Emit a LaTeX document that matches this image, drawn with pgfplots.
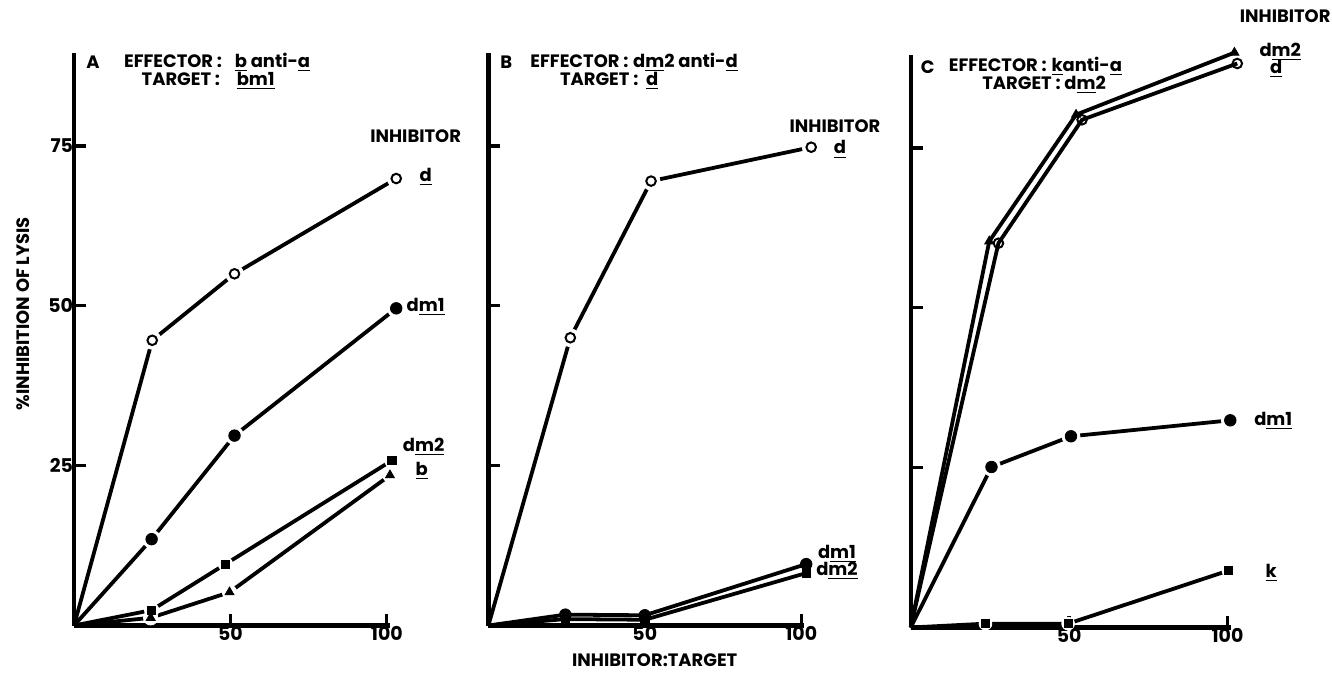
\documentclass[border=0pt]{standalone}
\usepackage{pgfplots}
\pgfplotsset{compat=1.18}
\usepackage{pgfplotstable}
\usepackage{fontspec}
\setmainfont{Poppins}
\pgfplotstableread{
x y
0 0
25 44.6
51.3 55
103 69.9
}\Ad
\pgfplotstableread{
x y
0 0
24.8 13.5
51.3 29.7
103 49.6
}\Admone
\pgfplotstableread{
x y
0 0
24.8 2.4
48.4 9.6
101.6 25.8
}\Admtwo
\pgfplotstableread{
x y
0 0
24.5 1.2
49.7 5.2
101 23.5
}\Ab
\pgfplotstableread{
x y
0 0
26.2 45
52 69.5
103.2 74.8
}\Bd
\pgfplotstableread{
x y
0 0
24.6 1.7
50 1.6
101.6 9.6
}\Bdmone
\pgfplotstableread{
x y
0 0
24.6 1.0
50 0.9
101.6 8.2
}\Bdmtwo
\pgfplotstableread{
x y
0 0
24.8 60.4
52.2 80.2
102.2 89.9
}\Cdmtwo
\pgfplotstableread{
x y
0 0
27.7 60.1
54.1 79.4
103.1 88.2
}\Cd
\pgfplotstableread{
x y
0 0
25.5 25.1
50.6 29.9
100.9 32.4
}\Cdmone
\pgfplotstableread{
x y
0 0
23.6 0.6
49.7 0.6
100.3 8.9
}\Ck
\begin{document}
\pgfplotsset{
 panel/.style={scale only axis, width=158.6pt, height=287.3pt,
   xmin=0, xmax=101, ymin=0, ymax=89.5,
   axis x line*=bottom, axis y line*=left,
   axis line style={line width=2.2pt, -},
   tick align=inside, major tick length=6pt,
   tick style={line width=1.6pt, black},
   xtick={50,100}, ytick={25,50,75},
   clip=false, axis on top,
   /pgf/number format/assume math mode=true,
   ticklabel style={font=\bfseries\fontsize{9.5}{9.5}\selectfont},
   xticklabel style={yshift=3pt},
   yticklabel style={xshift=3pt},
   anchor=south west},
 ln/.style={black, line width=1.9pt, mark=none},
 halo/.style={only marks, mark=*, mark size=#1, mark options={draw=white, fill=white}, skip coords between index={0}{1}},
 halo/.default=4.5pt,
 mo/.style={only marks, mark=o, mark size=2.4pt, mark options={draw=black, fill=white, line width=1pt}, skip coords between index={0}{1}},
 mc/.style={only marks, mark=*, mark size=2.9pt, mark options={draw=black, fill=black}, skip coords between index={0}{1}},
 ms/.style={only marks, mark=square*, mark size=2.1pt, mark options={draw=black, fill=black}, skip coords between index={0}{1}},
 mt/.style={only marks, mark=triangle*, mark size=2.6pt, mark options={draw=black, fill=black}, skip coords between index={0}{1}},
}
\begin{tikzpicture}
\useasboundingbox (0,0) rectangle (666pt,338.5pt);
% Panel A
\begin{axis}[panel, at={(34.5pt,24.5pt)}]
\addplot[ln] table {\Ad};
\addplot[ln] table {\Admone};
\addplot[ln] table {\Admtwo};
\addplot[ln] table {\Ab};
\addplot[halo] table {\Ad};
\addplot[halo] table {\Admone};
\addplot[halo=3.6pt] table {\Admtwo};
\addplot[halo=3.6pt] table {\Ab};
\addplot[mo] table {\Ad};
\addplot[mc] table {\Admone};
\addplot[ms] table {\Admtwo};
\addplot[mt] table {\Ab};
\end{axis}
% Panel B
\begin{axis}[panel, at={(242.5pt,24.5pt)}, yticklabels={}]
\addplot[ln] table {\Bd};
\addplot[ln] table {\Bdmone};
\addplot[ln] table {\Bdmtwo};
\addplot[halo] table {\Bd};
\addplot[mo] table {\Bd};
\addplot[mc] table {\Bdmone};
\addplot[ms] table {\Bdmtwo};
\end{axis}
% Panel C
\begin{axis}[panel, width=160.6pt, at={(454.5pt,23.5pt)}, yticklabels={}]
\addplot[ln] table {\Cdmtwo};
\addplot[ln] table {\Cd};
\addplot[ln] table {\Cdmone};
\addplot[ln] table {\Ck};
\addplot[halo] table {\Cdmone};
\addplot[halo=3.2pt] table {\Ck};
\addplot[mt] table {\Cdmtwo};
\addplot[mo] table {\Cd};
\addplot[mc] table {\Cdmone};
\addplot[ms] table {\Ck};
\end{axis}
\begin{scope}[shift={(0,338.5pt)}, x=0.5pt, y=-0.5pt, font=\bfseries\fontsize{9}{10}\selectfont, inner sep=0pt]
 \node[rotate=90] at (18,315) {\%INHIBITION OF LYSIS};
 \node at (652,663) {INHIBITOR:TARGET};
 % A
 \node at (88,62) {A};
 \node[anchor=base east] at (218,68) {EFFECTOR :};
 \node[anchor=base west] at (230,68) {\underline{b} anti-\underline{a}};
 \node[anchor=base east] at (216,86) {TARGET :};
 \node[anchor=base west] at (232,86) {\underline{bm1}};
 \node at (412,137) {INHIBITOR};
 \node at (422,178) {\underline{d}};
 \node at (422,308) {d\underline{m1}};
 \node at (420,449) {d\underline{m2}};
 \node at (418,473) {\underline{b}};
 % B
 \node at (503,62) {B};
 \node[anchor=base east] at (626,68) {EFFECTOR :};
 \node[anchor=base west] at (630,68) {d\underline{m}2 anti-\underline{d}};
 \node[anchor=base east] at (636,86) {TARGET :};
 \node[anchor=base west] at (643,86) {\underline{d}};
 \node at (833,127) {INHIBITOR};
 \node at (838,150) {\underline{d}};
 \node at (835,556) {d\underline{m1}};
 \node at (835,573) {d\underline{m2}};
 % C
 \node at (926,67) {C};
 \node[anchor=base east] at (1046,72) {EFFECTOR :};
 \node[anchor=base west] at (1050,72) {\underline{k}anti-\underline{a}};
 \node[anchor=base east] at (1060,90) {TARGET :};
 \node[anchor=base west] at (1063,90) {d\underline{m}2};
 \node at (1285,16) {INHIBITOR};
 \node at (1280,52) {d\underline{m2}};
 \node at (1276,69) {\underline{d}};
 \node at (1273,423) {d\underline{m1}};
 \node at (1271,575) {\underline{k}};
\end{scope}
\end{tikzpicture}
\end{document}
